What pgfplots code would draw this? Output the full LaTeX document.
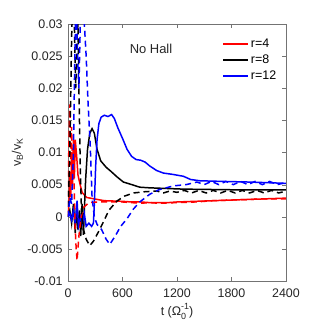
\documentclass[border=0pt]{standalone}
\usepackage{pgfplots}
\pgfplotsset{compat=1.18}
\usepackage{fontspec}
\setmainfont{Liberation Sans}
\definecolor{axgray}{gray}{0.45}
\definecolor{txt}{gray}{0.15}
\tikzset{lw/.style={line width=1.5pt}, dsh/.style={dash pattern=on 6bp off 4bp}}
\begin{document}
\fontsize{12.5}{15}\selectfont
\begin{tikzpicture}
\useasboundingbox (-68bp,-48bp) rectangle (248bp,281bp);
\begin{axis}[
  at={(0,0)}, anchor=south west,
  scale only axis, width=218bp, height=257bp,
  xmin=0, xmax=2400, ymin=-0.01, ymax=0.03,
  xtick={0,600,1200,1800,2400},
  xticklabels={0,600,1200,1800,2400},
  ytick={-0.01,-0.005,0,0.005,0.01,0.015,0.02,0.025,0.03},
  yticklabels={-0.01,-0.005,0,0.005,0.01,0.015,0.02,0.025,0.03},
  scaled y ticks=false, scaled x ticks=false,
  tick align=inside, major tick length=4bp,
  axis line style={axgray}, tick style={axgray},
  ticklabel style={font=\fontsize{12.5}{15}\selectfont, text=txt},
  yticklabel style={xshift=-1bp},
  xticklabel style={yshift=-3bp},
  xlabel={t (Ω\rlap{\raisebox{-0.55ex}{\fontsize{9}{10}\selectfont 0}}\raisebox{0.85ex}{\fontsize{9}{10}\selectfont -1})},
  ylabel={v\textsubscript{B}/v\textsubscript{K}},
  label style={font=\fontsize{12.5}{15}\selectfont, text=txt},
  xlabel style={yshift=2bp},
  ylabel style={yshift=-4bp},
  legend style={at={(0.97,0.955)}, anchor=north east, draw=none, fill=none,
    font=\fontsize{12.5}{15}\selectfont, row sep=1.5pt, inner sep=1pt},
  legend cell align=left,
  legend image code/.code={\draw[#1] (0bp,0bp) -- (25bp,0bp);},
]
% red solid
\addplot[red, lw] coordinates {
(0,0) (10,0.002) (20,0.007) (30,0.003) (40,0.01) (50,0.005) (60,0.012) (70,0.006) (80,0.012) (95,0.0095) (110,0.0065) (130,0.0052) (155,0.0038) (205,0.003) (320,0.0027) (400,0.0025) (600,0.0024) (700,0.0023) (800,0.0023) (900,0.0022) (1000,0.0022) (1100,0.0022) (1200,0.0023) (1400,0.0024) (1600,0.0025) (1800,0.0026) (2000,0.0027) (2200,0.0028) (2400,0.0029)};
\addlegendentry{r=4}
% black solid
\addplot[black, lw] coordinates {
(0,0) (20,0.001) (40,-0.001) (60,0.002) (80,-0.0025) (95,0.0017) (110,-0.002) (125,0.001) (140,-0.003) (155,0.002) (170,-0.0028) (180,0.001) (195,0.006) (215,0.0105) (240,0.013) (265,0.0137) (290,0.013) (320,0.0105) (360,0.0087) (420,0.0077) (470,0.0071) (540,0.0062) (610,0.0054) (680,0.0051) (790,0.0046) (900,0.0045) (1270,0.0043) (1800,0.0042) (2400,0.0042)};
\addlegendentry{r=8}
% blue solid
\addplot[blue, lw] coordinates {
(0,0) (20,0.0005) (40,-0.0005) (60,0.001) (80,-0.001) (100,0.0025) (115,-0.0015) (140,0.0) (160,-0.001) (180,0.0005) (200,-0.0015) (230,-0.001) (260,-0.0015) (280,-0.001) (290,0.002) (305,0.008) (320,0.012) (340,0.0145) (365,0.0155) (400,0.0158) (440,0.0156) (480,0.0159) (510,0.0153) (550,0.0138) (600,0.0122) (650,0.0105) (700,0.0094) (750,0.0089) (800,0.0088) (850,0.0085) (900,0.0079) (975,0.0072) (1050,0.0068) (1150,0.0066) (1270,0.0063) (1350,0.0058) (1450,0.0056) (1700,0.0055) (2000,0.0054) (2400,0.0052)};
\addlegendentry{r=12}

% red dashed
\addplot[red, lw, dsh, forget plot] coordinates {
(0,0) (10,0.012) (20,0.0175) (30,0.008) (40,0.014) (50,0.006) (60,0.01) (70,0.003) (80,-0.002) (90,-0.005) (100,-0.0068) (120,-0.003) (145,0) (175,0.0015) (230,0.0022) (330,0.0023) (400,0.0023) (500,0.0023) (600,0.0023) (700,0.0022) (800,0.0021) (900,0.0022) (1000,0.0021) (1200,0.0022) (1400,0.0023) (1600,0.0025) (1800,0.0026) (2000,0.0027) (2200,0.0028) (2400,0.0028)};
% black dashed
\addplot[black, lw, dsh, forget plot] coordinates {
(0,0) (20,0.01) (40,0.028) (55,0.035) (70,0.03) (85,0.02) (100,0.028) (110,0.03) (120,0.02) (135,0.008) (150,0) (170,-0.002) (200,-0.0035) (240,-0.0045) (280,-0.0038) (330,-0.0025) (390,-0.0008) (450,0.001) (535,0.0024) (620,0.0032) (720,0.0037) (850,0.0039) (980,0.004) (1050,0.0037) (1120,0.0040) (1200,0.0038) (1280,0.0041) (1360,0.0037) (1440,0.0041) (1520,0.0037) (1600,0.0041) (1680,0.0037) (1760,0.0041) (1840,0.0037) (1920,0.0041) (2000,0.0037) (2080,0.0041) (2160,0.0037) (2240,0.0041) (2320,0.0037) (2400,0.0040)};
% blue dashed
\addplot[blue, lw, dsh, forget plot] coordinates {
(0,0) (20,0.003) (40,0.002) (60,0.01) (75,0.025) (90,0.035) (105,0.025) (120,0.02) (140,0.033) (160,0.035) (180,0.03) (200,0.025) (220,0.018) (245,0.011) (265,0.003) (290,0.0) (320,-0.0012) (370,-0.002) (420,-0.0035) (460,-0.0043) (520,-0.003) (580,-0.0015) (650,-0.0003) (720,0.0012) (790,0.0023) (900,0.0035) (1000,0.0042) (1160,0.0048) (1300,0.0050) (1420,0.0054) (1500,0.0050) (1580,0.0055) (1660,0.0050) (1740,0.0055) (1820,0.0050) (1900,0.0055) (1980,0.0050) (2060,0.0055) (2140,0.0050) (2220,0.0055) (2300,0.0050) (2400,0.0053)};

\node[font=\fontsize{13}{15}\selectfont, text=txt] at (axis cs:914,0.0261) {No Hall};
\end{axis}
\end{tikzpicture}
\end{document}
